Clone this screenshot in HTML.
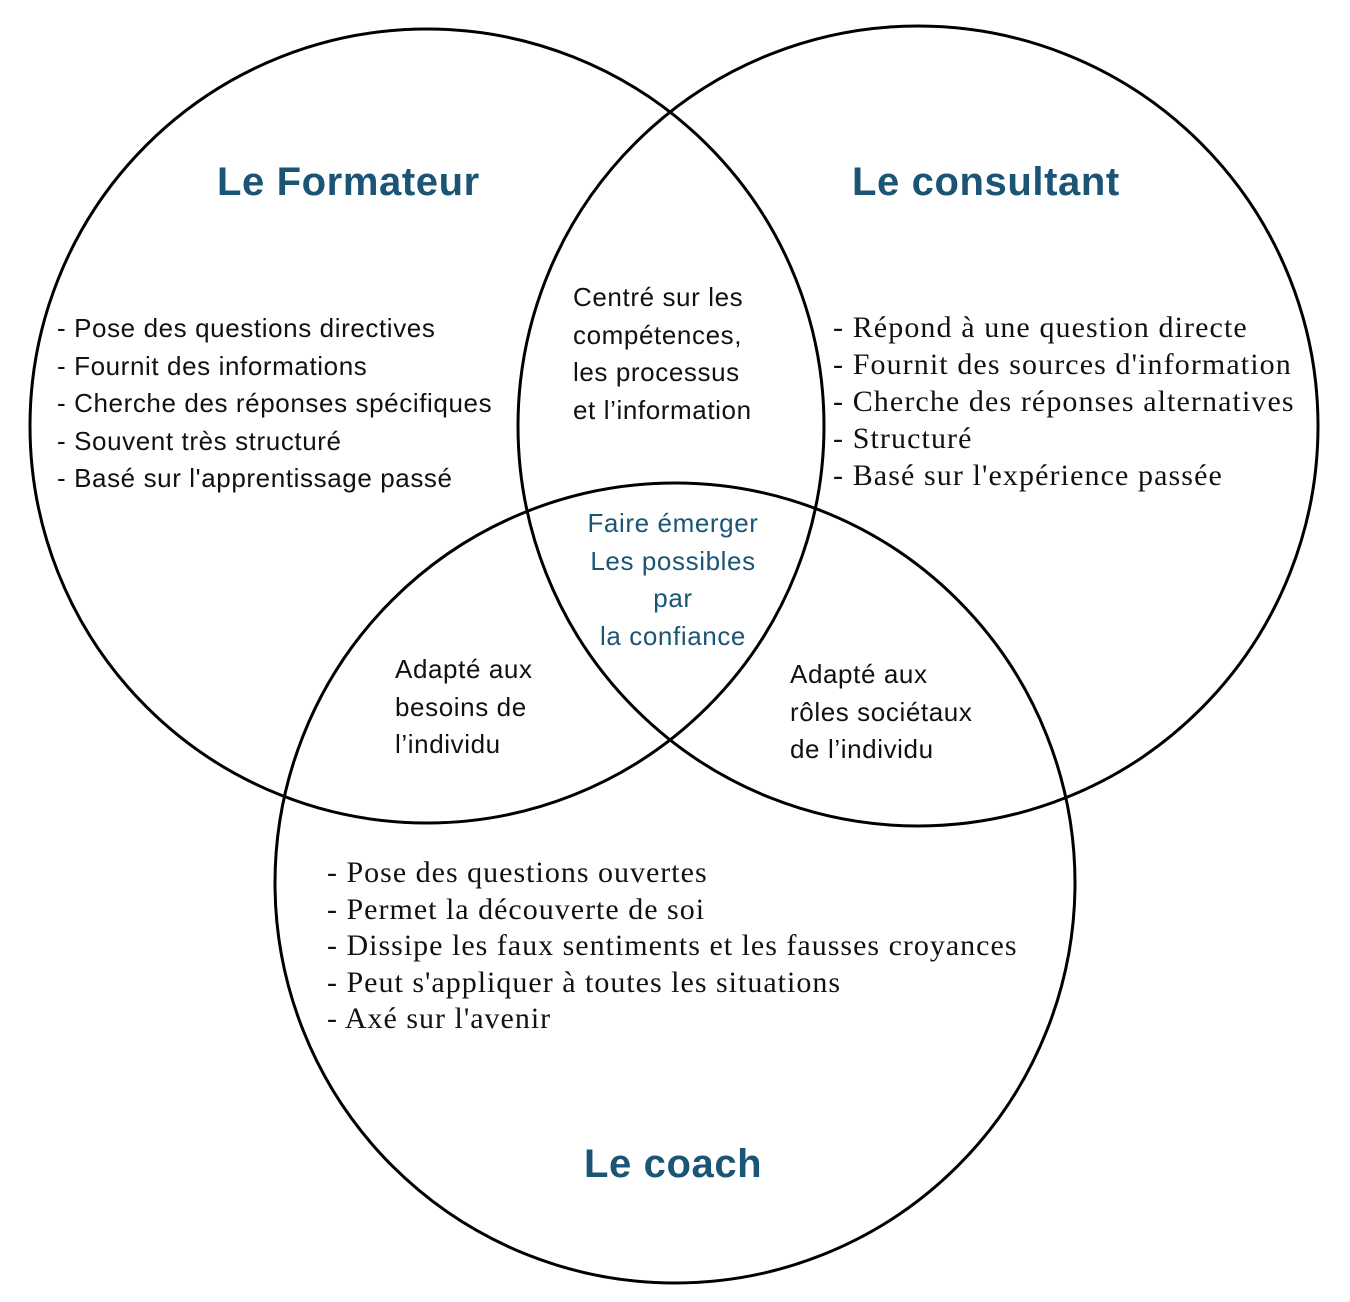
<!DOCTYPE html>
<html><head><meta charset="utf-8">
<style>
body{margin:0;width:1350px;height:1302px;background:#fff;position:relative;overflow:hidden;font-family:"Liberation Sans",sans-serif;}
.t{position:absolute;white-space:nowrap;color:#111;}
.h{font-weight:bold;color:#1b5576;font-size:40px;letter-spacing:0.6px;}
.s{font-size:26px;line-height:37.5px;letter-spacing:0.6px;}
.r{font-family:"Liberation Serif",serif;font-size:30px;line-height:37px;letter-spacing:1.1px;}
.b{color:#1b5576;}
</style></head><body>
<svg width="1350" height="1302" style="position:absolute;left:0;top:0">
<g fill="none" stroke="#000" stroke-width="3">
<circle cx="427" cy="426" r="397"/>
<circle cx="918" cy="426" r="400"/>
<circle cx="675" cy="883" r="400"/>
</g>
</svg>
<div class="t h" style="left:217px;top:160px">Le Formateur</div>
<div class="t h" style="left:852px;top:160px">Le consultant</div>
<div class="t h" style="left:584px;top:1142px">Le coach</div>
<div class="t s" style="left:57px;top:310px">- Pose des questions directives<br>- Fournit des informations<br>- Cherche des réponses spécifiques<br>- Souvent très structuré<br>- Basé sur l'apprentissage passé</div>
<div class="t r" style="left:833px;top:309px">- Répond à une question directe<br>- Fournit des sources d'information<br>- Cherche des réponses alternatives<br>- Structuré<br>- Basé sur l'expérience passée</div>
<div class="t s" style="left:573px;top:279px">Centré sur les<br>compétences,<br>les processus<br>et l’information</div>
<div class="t s b" style="left:573px;top:505px;width:200px;text-align:center">Faire émerger<br>Les possibles<br>par<br>la confiance</div>
<div class="t s" style="left:395px;top:651px">Adapté aux<br>besoins de<br>l’individu</div>
<div class="t s" style="left:790px;top:656px">Adapté aux<br>rôles sociétaux<br>de l’individu</div>
<div class="t r" style="left:327px;top:855px;line-height:36.5px;letter-spacing:1px">- Pose des questions ouvertes<br>- Permet la découverte de soi<br>- Dissipe les faux sentiments et les fausses croyances<br>- Peut s'appliquer à toutes les situations<br>- Axé sur l'avenir</div>
</body></html>
